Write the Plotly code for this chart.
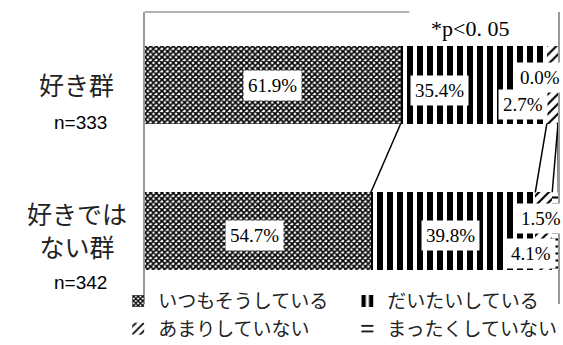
import plotly.graph_objects as go

groups = ["好き群", "好きでは<br>ない群"]
group_n = ["n=333", "n=342"]
series = ["いつもそうしている", "だいたいしている", "あまりしていない", "まったくしていない"]
values = [
    [61.9, 54.7],
    [35.4, 39.8],
    [2.7, 4.1],
    [0.0, 1.5],
]
note = "*p&lt;0. 05"

patterns = [
    dict(shape="x", size=4, solidity=0.65),
    dict(shape="|", size=10, solidity=0.6),
    dict(shape="/", size=7, solidity=0.3),
    dict(shape="-", size=7, solidity=0.3),
]
legend_of = ["legend", "legend2", "legend", "legend2"]
# manual label offsets (px) per series / group, like the hand-moved labels in the original
label_shift = [
    [(0, 0), (-3, -4)],
    [(-34, -5), (-3, -4)],
    [(-29, -19), (-13, -22)],
    [(-18, 8), (-14, 13)],
]

ypos = [len(groups) - 1 - i for i in range(len(groups))]
bar_w = 0.53
jp = "Noto Sans CJK JP"
serif = "Liberation Serif"

fig = go.Figure()
for s, name in enumerate(series):
    fig.add_trace(go.Bar(
        x=values[s], y=ypos, name=name, orientation="h", width=bar_w, legend=legend_of[s],
        marker=dict(color="white", line=dict(width=0),
                    pattern=dict(fgcolor="black", bgcolor="white", fgopacity=1, **patterns[s])),
    ))

# cumulative ends
cum = []
run = [0.0] * len(groups)
for s in range(len(series)):
    start = run[:]
    run = [run[g] + values[s][g] for g in range(len(groups))]
    cum.append((start, run[:]))

# series lines between the two bars
lx, ly = [], []
for s in range(len(series)):
    end = cum[s][1]
    lx += [end[0], end[1], None]
    ly += [ypos[0] - bar_w / 2, ypos[1] + bar_w / 2, None]
fig.add_trace(go.Scatter(x=lx, y=ly, mode="lines", line=dict(color="black", width=1.5),
                         showlegend=False, hoverinfo="skip"))

# data labels
for s in range(len(series)):
    start, end = cum[s]
    for g in range(len(groups)):
        dx, dy = label_shift[s][g]
        fig.add_annotation(
            x=(start[g] + end[g]) / 2, y=ypos[g], text=f"{values[s][g]:.1f}%",
            showarrow=False, xshift=dx, yshift=dy, bgcolor="white", borderpad=4,
            font=dict(family=serif, size=19, color="black"),
        )

# category labels
name_shift = [1, 2]
n_shift = [-37, -51]
for g in range(len(groups)):
    fig.add_annotation(x=-0.165, xref="paper", y=ypos[g], yref="y", text=groups[g],
                       showarrow=False, xanchor="center", align="center", yshift=name_shift[g],
                       font=dict(family=jp, size=25, color="#222"))
    fig.add_annotation(x=-0.155, xref="paper", y=ypos[g], yref="y", text=group_n[g],
                       showarrow=False, xanchor="center", yshift=n_shift[g],
                       font=dict(family="Liberation Sans Narrow, Liberation Sans", size=19, color="black"))

fig.add_annotation(x=0.885, xref="paper", y=1.5, yref="y", yshift=-16, text=note, showarrow=False,
                   font=dict(family=serif, size=22, color="black"))

# plot frame (top line stops where the note sits)
fig.add_shape(type="line", xref="paper", yref="paper", x0=0, x1=0.64, y0=1, y1=1,
              line=dict(color="#999", width=1.5))

leg = dict(yanchor="top", xanchor="left", y=0.075, traceorder="normal", itemwidth=30,
           font=dict(family=jp, size=19, color="#222"), bgcolor="rgba(0,0,0,0)", tracegroupgap=0)

fig.update_layout(
    width=563, height=345,
    margin=dict(l=145, r=5, t=12, b=41, autoexpand=False),
    barmode="stack", bargap=0,
    plot_bgcolor="white", paper_bgcolor="white",
    showlegend=True,
    legend=dict(x=-0.065, **leg),
    legend2=dict(x=0.49, **leg),
    xaxis=dict(range=[0, 100], showticklabels=False, showgrid=False, zeroline=False,
               showline=False, ticks=""),
    yaxis=dict(range=[-0.5, 1.5], showticklabels=False, showgrid=False, zeroline=False,
               showline=True, mirror=True, linecolor="#999", linewidth=1.5, ticks=""),
)

fig.write_html("out.html", post_script="document.body.style.margin='0';",
               config={"displayModeBar": False})
